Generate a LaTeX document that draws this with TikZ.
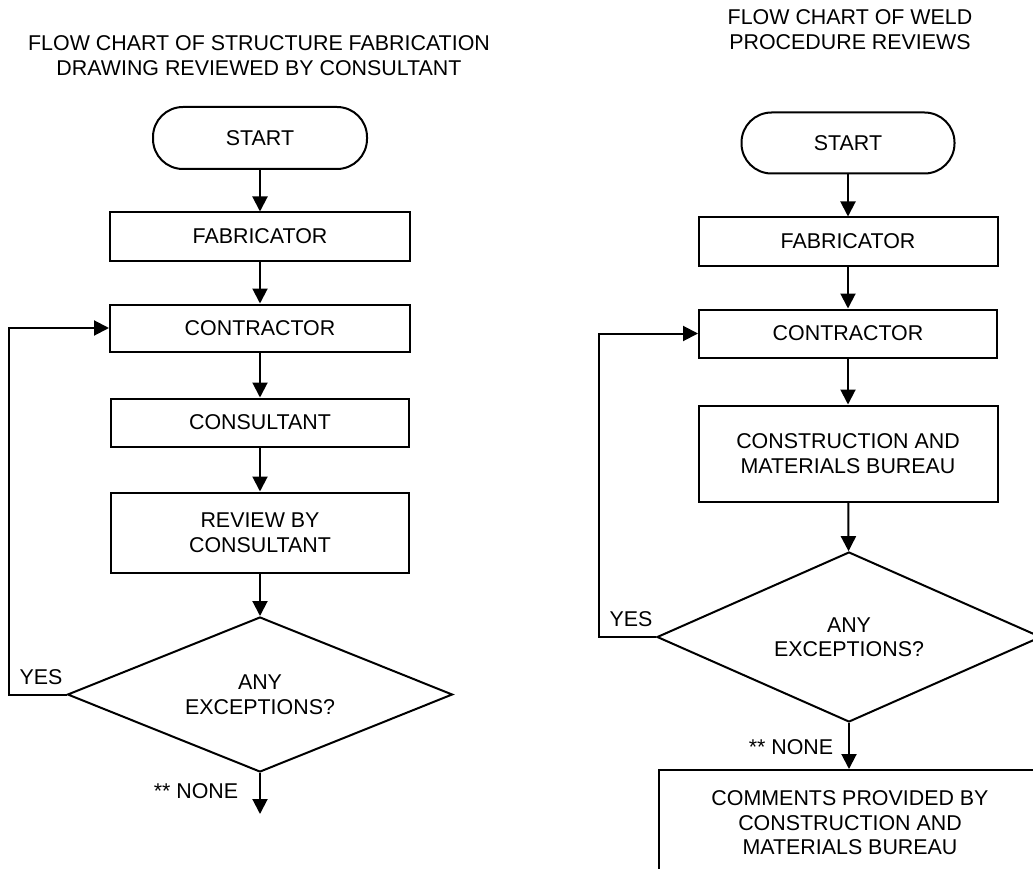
\documentclass[tikz,border=0pt]{standalone}
\usepackage{fontspec}
\setmainfont{Liberation Sans}
\usetikzlibrary{arrows.meta,shapes.geometric}
\begin{document}
\begin{tikzpicture}[x=1pt,y=-1pt,
  every node/.style={font=\fontsize{21.4}{24.5}\selectfont, align=center, inner sep=0pt},
  box/.style={draw, line width=2pt, rectangle},
  term/.style={draw, line width=2pt, rectangle, rounded corners=30pt},
  dec/.style={draw, line width=2pt, diamond, aspect=2.5},
  arr/.style={line width=2pt, -{Triangle[length=15pt,width=15pt]}},
  ln/.style={line width=2pt}
]
\useasboundingbox (0,0) rectangle (1033,869);
\clip (0,0) rectangle (1033,869);

% ---- left chart ----
\node (ltitle) at (259,55.5) {FLOW CHART OF STRUCTURE FABRICATION\\DRAWING REVIEWED BY CONSULTANT};
\node[term, minimum width=214pt, minimum height=62pt] (lstart) at (260,138) {START};
\node[box, minimum width=300pt, minimum height=48pt] (lfab) at (260,236.5) {FABRICATOR};
\node[box, minimum width=300pt, minimum height=47pt] (lcon) at (260,328) {CONTRACTOR};
\node[box, minimum width=298pt, minimum height=48pt] (lcons) at (260,422.5) {CONSULTANT};
\node[box, minimum width=298pt, minimum height=80pt] (lrev) at (260,532.5) {REVIEW BY\\CONSULTANT};
\node[dec, minimum width=385pt, minimum height=155pt] (ldia) at (260,694.5) {ANY\\EXCEPTIONS?};
\coordinate (lend) at (260,814);
\node (lyes) at (41,677) {YES};
\node (lnone) at (196,791) {** NONE};

\draw[arr] (lstart) -- (lfab);
\draw[arr] (lfab) -- (lcon);
\draw[arr] (lcon) -- (lcons);
\draw[arr] (lcons) -- (lrev);
\draw[arr] (lrev) -- (ldia);
\draw[arr] (ldia.south) -- (lend);
\draw[arr] (ldia.west) -- ++(-58,0) |- (lcon.west);

% ---- right chart ----
\node (rtitle) at (850,29.5) {FLOW CHART OF WELD\\PROCEDURE REVIEWS};
\node[term, minimum width=213pt, minimum height=61pt] (rstart) at (848,143) {START};
\node[box, minimum width=299pt, minimum height=48pt] (rfab) at (848,241.5) {FABRICATOR};
\node[box, minimum width=298pt, minimum height=48pt] (rcon) at (848,333.5) {CONTRACTOR};
\node[box, minimum width=299pt, minimum height=96pt] (rcmb) at (848,453.5) {CONSTRUCTION AND\\MATERIALS BUREAU};
\node[dec, minimum width=384pt, minimum height=170pt] (rdia) at (849,637) {ANY\\EXCEPTIONS?};
\node[box, minimum width=382pt, minimum height=106pt] (rcom) at (850,823) {COMMENTS PROVIDED BY\\CONSTRUCTION AND\\MATERIALS BUREAU};
\node (ryes) at (631,619) {YES};
\node (rnone) at (791,747) {** NONE};

\draw[arr] (rstart) -- (rfab);
\draw[arr] (rfab) -- (rcon);
\draw[arr] (rcon) -- (rcmb);
\draw[arr] (rcmb) -- (rdia);
\draw[arr] (rdia.south) -- (rdia.south |- rcom.north);
\draw[arr] (rdia.west) -- ++(-57,0) |- (rcon.west);
\end{tikzpicture}
\end{document}
